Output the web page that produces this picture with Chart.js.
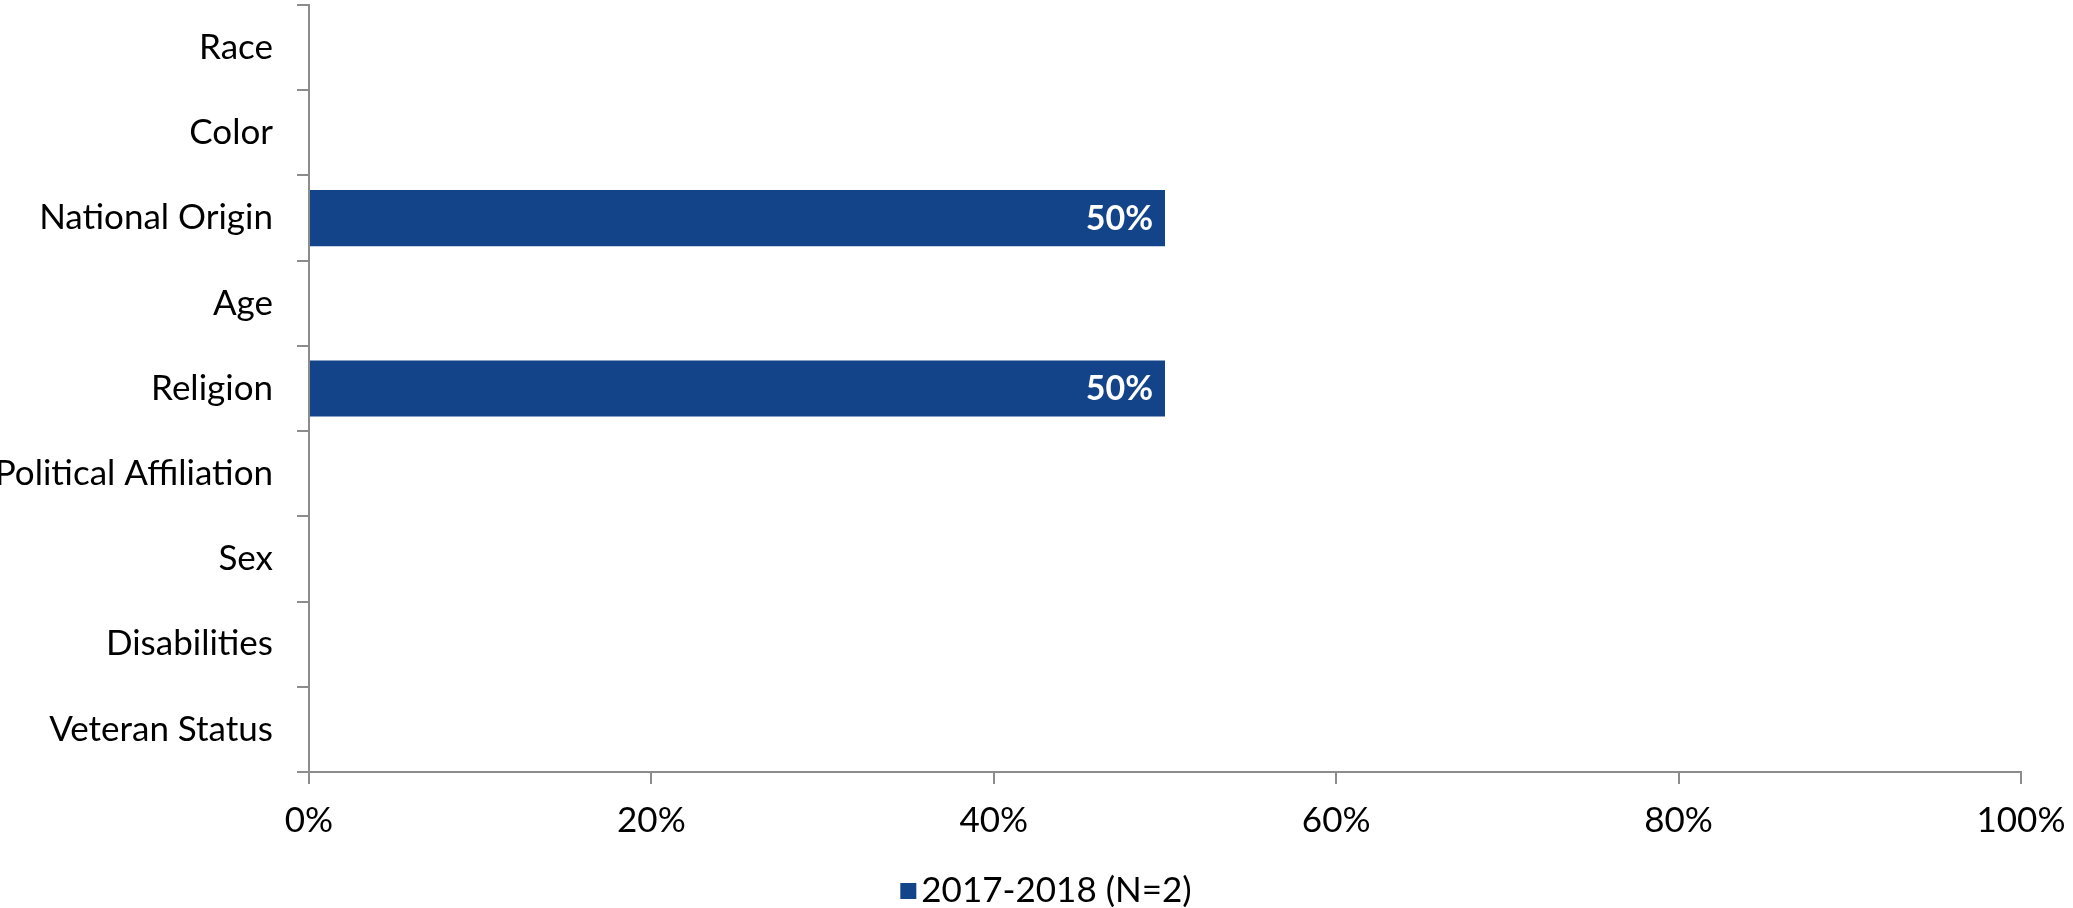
<!DOCTYPE html>
<html>
<head>
<meta charset="utf-8">
<script src="https://cdn.jsdelivr.net/npm/chart.js@4"></script>
<style>
    body { margin: 0; background: #ffffff; }
    #wrap { width: 2073px; height: 908px; position: relative; }
</style>
</head>
<body>
<div id="wrap"><canvas id="basisChart"></canvas></div>
<script>
const categories = ['Race', 'Color', 'National Origin', 'Age', 'Religion', 'Political Affiliation', 'Sex', 'Disabilities', 'Veteran Status'];
const seriesLabel = '2017-2018 (N=2)';
const seriesValues = [0, 0, 50, 0, 50, 0, 0, 0, 0];
const xTicks = [0, 20, 40, 60, 80, 100];

const barColor = '#134389';
const axisColor = '#8c8c8c';
const fontFamily = 'Lato, "Open Sans", sans-serif';

// value labels inside the bar end
const barLabels = {
    id: 'barLabels',
    afterDatasetsDraw(chart) {
        const ctx = chart.ctx;
        const meta = chart.getDatasetMeta(0);
        ctx.save();
        ctx.fillStyle = '#ffffff';
        ctx.font = 'bold 34px ' + fontFamily;
        ctx.textAlign = 'right';
        ctx.textBaseline = 'middle';
        meta.data.forEach((bar, i) => {
            const v = seriesValues[i];
            if (!v) return;
            ctx.fillText(v + '%', bar.x - 12, bar.y + 1);
        });
        ctx.restore();
    }
};

// simple legend under the axis
const bottomLegend = {
    id: 'bottomLegend',
    afterDraw(chart) {
        const ctx = chart.ctx;
        const ds = chart.data.datasets[0];
        ctx.save();
        ctx.font = '35px ' + fontFamily;
        const tw = ctx.measureText(ds.label).width;
        const box = 16, gap = 5;
        const total = box + gap + tw;
        const x0 = 1046 - total / 2;
        const yc = 891;
        ctx.fillStyle = ds.backgroundColor;
        ctx.fillRect(x0, yc - box / 2, box, box);
        ctx.fillStyle = '#000000';
        ctx.textAlign = 'left';
        ctx.textBaseline = 'middle';
        ctx.fillText(ds.label, x0 + box + gap, yc);
        ctx.restore();
    }
};

const ctx = document.getElementById('basisChart').getContext('2d');
new Chart(ctx, {
    type: 'bar',
    data: {
        labels: categories,
        datasets: [{
            label: seriesLabel,
            data: seriesValues,
            backgroundColor: barColor,
            borderWidth: 0,
            barPercentage: 0.66,
            categoryPercentage: 1
        }]
    },
    options: {
        indexAxis: 'y',
        responsive: true,
        maintainAspectRatio: false,
        animation: false,
        layout: { padding: { left: 0, right: 52, top: 5, bottom: 0 } },
        scales: {
            x: {
                min: 0,
                max: 100,
                afterBuildTicks: (scale) => { scale.ticks = xTicks.map(v => ({ value: v })); },
                afterFit: (scale) => {
                    scale.height = 136;
                    scale.paddingLeft = 0;
                    scale.paddingRight = 0;
                },
                ticks: {
                    color: '#000000',
                    font: { family: fontFamily, size: 35 },
                    padding: 16,
                    callback: (v) => v + '%'
                },
                grid: { drawOnChartArea: false, drawTicks: true, tickLength: 12, color: axisColor, lineWidth: 2 },
                border: { display: true, color: axisColor, width: 2 }
            },
            y: {
                afterFit: (scale) => {
                    scale.width = 309;
                    scale.paddingTop = 0;
                    scale.paddingBottom = 0;
                },
                ticks: {
                    color: '#000000',
                    font: { family: fontFamily, size: 35 },
                    padding: 24
                },
                grid: { drawOnChartArea: false, drawTicks: true, tickLength: 12, color: axisColor, lineWidth: 2, offset: true },
                border: { display: true, color: axisColor, width: 2 }
            }
        },
        plugins: {
            legend: { display: false },
            tooltip: { enabled: false }
        }
    },
    plugins: [barLabels, bottomLegend]
});
</script>
</body>
</html>
